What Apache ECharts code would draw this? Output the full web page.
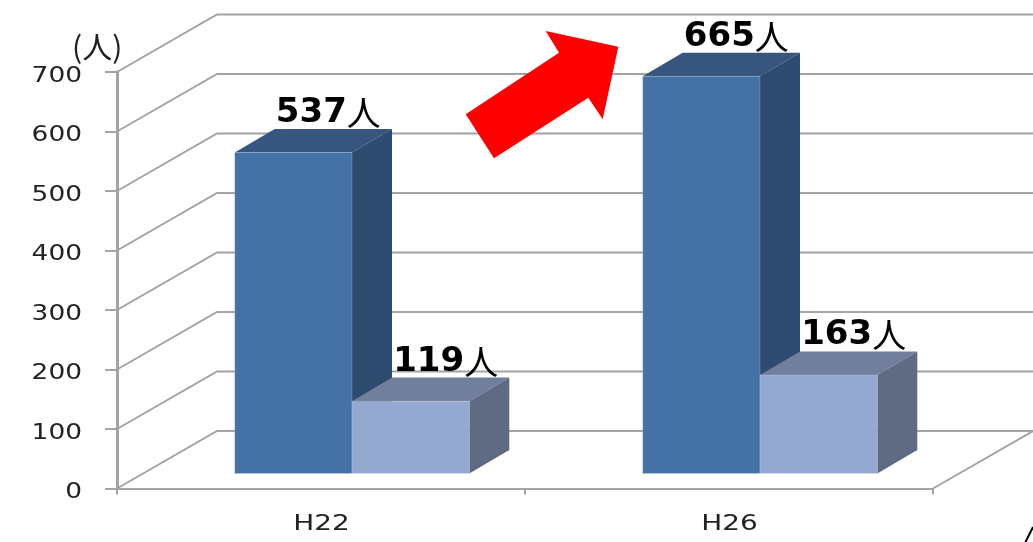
<!DOCTYPE html>
<html>
<head>
<meta charset="utf-8">
<title>H22 H26</title>
<style>
html, body { margin: 0; padding: 0; background: #fff; overflow: hidden; }
#mainContent { width: 1033px; height: 542px; }
</style>
<script src="https://cdn.jsdelivr.net/npm/echarts@6/dist/echarts.min.js"></script>
</head>
<body>
<div id="mainContent"></div>
<script>
var categories = ['H22', 'H26'];
var darkValues = [537, 665];
var lightValues = [119, 163];
var yTicks = [0, 100, 200, 300, 400, 500, 600, 700];

var latin = '"DejaVu Sans", sans-serif';
var cjk = '"Noto Sans CJK JP", sans-serif';
var lineColor = '#a3a3a3';

// 奥行き (背面の壁までのずれ)
var wallDx = 100, wallDy = -57.5;
// 棒の奥行きと手前からのずれ
var barW = 117.3, barDx = 40, barDy = -23.6, barOffX = 31, barOffY = -15, barLift = 1.5;
var darkFaces = { front: '#4572a6', top: '#36567f', side: '#2d4a6f' };
var lightFaces = { front: '#95a9d0', top: '#727f9c', side: '#5e6b83' };

var myChart = echarts.init(document.getElementById('mainContent'));

function pairs(values) {
    return values.map(function (v, i) { return [i, v]; });
}

function poly(points, fill, z2) {
    return { type: 'polygon', z2: z2, shape: { points: points }, style: { fill: fill } };
}

// 3D風の棒: left は棒の左端のカテゴリ中心からの位置
function barRenderer(faces, left) {
    return function (params, api) {
        var v = api.value(1);
        var top = api.coord([api.value(0), v]);
        var base = api.coord([api.value(0), 0]);
        var x0 = top[0] + left + barOffX;
        var x1 = x0 + barW;
        var yt = top[1] + barOffY - barLift;
        var yb = base[1] + barOffY;
        return {
            type: 'group',
            children: [
                poly([[x0, yt], [x1, yt], [x1 + barDx, yt + barDy], [x0 + barDx, yt + barDy]], faces.top),
                poly([[x1, yt], [x1 + barDx, yt + barDy], [x1 + barDx, yb + barDy], [x1, yb]], faces.side),
                {
                    type: 'rect',
                    shape: { x: x0, y: yt, width: barW, height: yb - yt },
                    style: { fill: faces.front, stroke: 'rgba(255,255,255,0.18)', lineWidth: 1 }
                },
                {
                    type: 'text',
                    z2: 10,
                    x: (x0 + x1) / 2 + 35,
                    y: yt - 39.5,
                    style: {
                        text: '{n|' + v + '}{u|人}',
                        align: 'center',
                        verticalAlign: 'middle',
                        rich: {
                            n: { font: 'bold 34px ' + latin, fill: '#000' },
                            u: { font: '34px ' + cjk, fill: '#000' }
                        }
                    }
                }
            ]
        };
    };
}

// 壁の目盛線と目盛ラベル
function wallRenderer(params, api) {
    var v = api.value(0);
    var p = api.coord([0, v]);
    var cs = params.coordSys;
    var x = cs.x, y = p[1];
    var right = cs.x + cs.width;
    var children = [
        {
            type: 'polyline',
            shape: { points: [[x, y], [x + wallDx, y + wallDy], [right + wallDx, y + wallDy]] },
            style: { fill: null, stroke: lineColor, lineWidth: 2 }
        },
        {
            type: 'text',
            x: 82,
            y: y + 4,
            scaleX: 1.2,
            style: { text: String(v), align: 'right', verticalAlign: 'middle', font: '22px ' + latin, fill: '#222' }
        }
    ];
    if (v === 0) {
        // 床の右端
        children.push({
            type: 'line',
            shape: { x1: right, y1: y, x2: right + wallDx, y2: y + wallDy },
            style: { stroke: lineColor, lineWidth: 2 }
        });
    }
    return { type: 'group', children: children };
}

function xLabelRenderer(params, api) {
    var p = api.coord([api.value(0), 0]);
    return {
        type: 'text',
        x: p[0] + 0.5,
        y: 524,
        scaleX: 1.27,
        style: { text: categories[api.value(0)], align: 'center', verticalAlign: 'middle', font: '22px ' + latin, fill: '#222' }
    };
}

option = {
    backgroundColor: '#fff',
    animation: false,
    title: {
        text: '(人)',
        left: 67,
        top: 27,
        textStyle: { fontFamily: cjk, fontSize: 30, fontWeight: 'normal', color: '#222' }
    },
    grid: { left: 117, right: 100, top: 72, bottom: 53.5 },
    xAxis: {
        type: 'category',
        data: categories,
        axisLine: { lineStyle: { color: lineColor, width: 2 } },
        axisTick: { show: true, length: 6, lineStyle: { color: lineColor, width: 2 } },
        axisLabel: { show: false }
    },
    yAxis: {
        type: 'value',
        min: 0,
        max: 700,
        interval: 100,
        axisLine: { show: true, lineStyle: { color: lineColor, width: 3 } },
        axisTick: { show: true, length: 12, lineStyle: { color: lineColor, width: 2 } },
        axisLabel: { show: false },
        splitLine: { show: false }
    },
    series: [
        { type: 'custom', clip: false, z: 1, renderItem: wallRenderer, encode: { y: 0 }, data: yTicks.map(function (v) { return [v]; }) },
        { type: 'custom', clip: false, z: 1, renderItem: xLabelRenderer, data: pairs(categories.map(function () { return 0; })) },
        { type: 'custom', clip: false, z: 2, renderItem: barRenderer(darkFaces, -barW), data: pairs(darkValues) },
        { type: 'custom', clip: false, z: 3, renderItem: barRenderer(lightFaces, 0), data: pairs(lightValues) }
    ],
    graphic: [
        {
            type: 'polygon',
            z: 20,
            shape: { points: [[465.7, 114.3], [559, 52.7], [545.7, 31], [618.3, 46.7], [602.7, 119.3], [588.3, 97.7], [494, 158.3]] },
            style: { fill: '#ff0000' }
        },
        {
            type: 'polyline',
            z: 20,
            shape: { points: [[1025, 543], [1033, 527]] },
            style: { fill: null, stroke: '#000', lineWidth: 2 }
        }
    ]
};

myChart.setOption(option);
</script>
</body>
</html>
